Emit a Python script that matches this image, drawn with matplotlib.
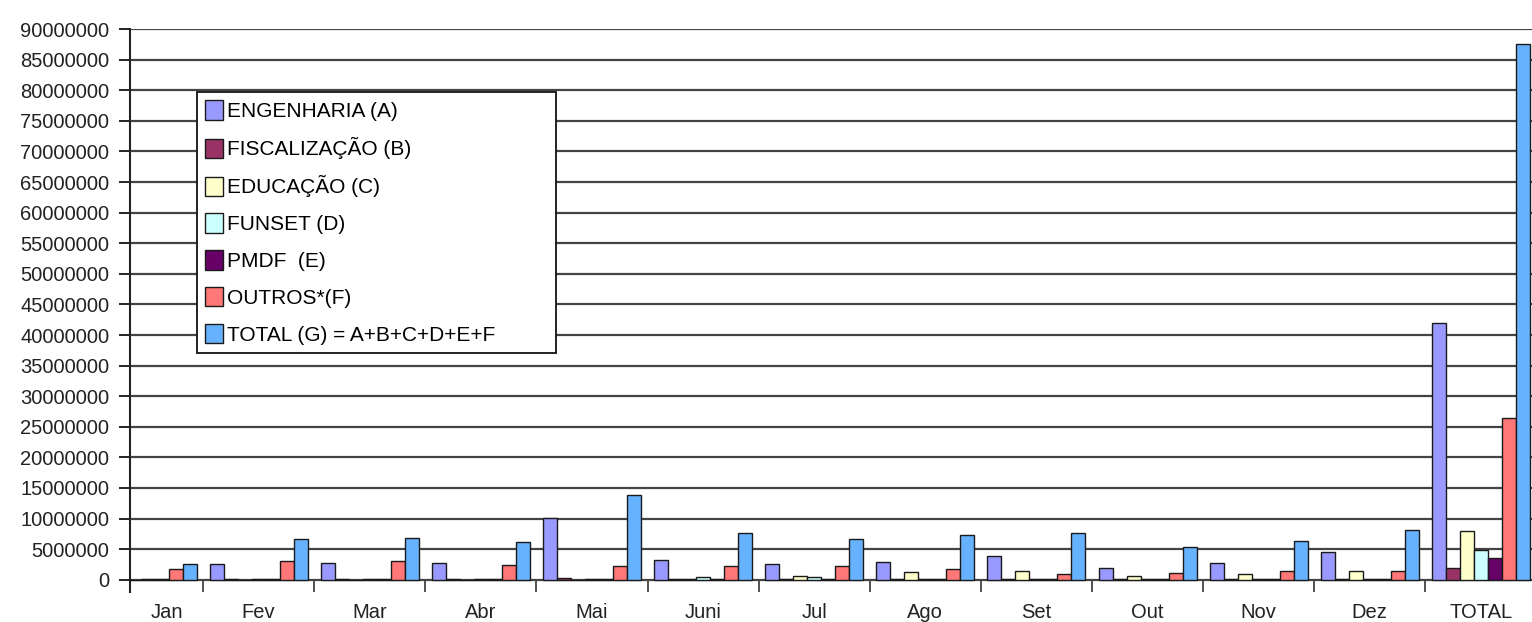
import numpy as np
import matplotlib
matplotlib.use("Agg")
import matplotlib.pyplot as plt
from matplotlib.ticker import FuncFormatter, FixedLocator

plt.rcParams['font.family'] = ['Liberation Sans', 'DejaVu Sans']

meses = ['Jan', 'Fev', 'Mar', 'Abr', 'Mai', 'Juni', 'Jul', 'Ago', 'Set', 'Out', 'Nov', 'Dez', 'TOTAL']

engenharia = [2.0e6, 2.5e6, 2.7e6, 2.8e6, 10.1e6, 3.2e6, 2.6e6, 2.9e6, 3.9e6, 1.9e6, 2.8e6, 4.6e6, 42.0e6]
fiscalizacao = [0.1e6, 0.1e6, 0.1e6, 0.1e6, 0.35e6, 0.1e6, 0.1e6, 0.1e6, 0.1e6, 0.1e6, 0.1e6, 0.15e6, 1.9e6]
educacao = [0, 0, 0, 0, 0, 0.1e6, 0.65e6, 1.3e6, 1.5e6, 0.65e6, 0.9e6, 1.4e6, 7.9e6]
funset = [0.1e6, 0.1e6, 0.1e6, 0.1e6, 0.1e6, 0.4e6, 0.5e6, 0.1e6, 0.1e6, 0.1e6, 0.1e6, 0.1e6, 4.8e6]
pmdf = [0.15e6, 0.15e6, 0.15e6, 0.15e6, 0.15e6, 0.15e6, 0.15e6, 0.15e6, 0.15e6, 0.15e6, 0.15e6, 0.15e6, 3.5e6]
outros = [1.7e6, 3.1e6, 3.1e6, 2.45e6, 2.3e6, 2.3e6, 2.3e6, 1.7e6, 0.9e6, 1.1e6, 1.5e6, 1.5e6, 26.4e6]
total = [2.6e6, 6.7e6, 6.9e6, 6.2e6, 13.8e6, 7.6e6, 6.6e6, 7.3e6, 7.7e6, 5.4e6, 6.4e6, 8.2e6, 87.6e6]

series = [engenharia, fiscalizacao, educacao, funset, pmdf, outros, total]
nomes = ['ENGENHARIA (A)', 'FISCALIZAÇÃO (B)', 'EDUCAÇÃO (C)', 'FUNSET (D)',
         'PMDF  (E)', 'OUTROS*(F)', 'TOTAL (G) = A+B+C+D+E+F']
cores = ['#9999FF', '#993366', '#FFFFCC', '#CCFFFF', '#660066', '#FF7777', '#66B2FF']

fig = plt.figure(figsize=(15.32, 6.22), dpi=100)
ax = fig.add_axes([0.0849, 0.0482, 0.9151, 0.9051])

x = np.arange(len(meses))
w = 0.126
for k, (vals, nome, cor) in enumerate(zip(series, nomes, cores)):
    ax.bar(x + (k - 3) * w, vals, w, color=cor, edgecolor='#1a1a1a', linewidth=1.0,
           label=nome, zorder=3)

x0, x1 = -0.157, 12.46
ax.set_xlim(x0, x1)
ax.set_ylim(-2e6, 90e6)

ax.set_yticks(np.arange(0, 90e6 + 1, 5e6))
ax.yaxis.set_major_formatter(FuncFormatter(lambda v, p: '%d' % v))
ax.yaxis.grid(True, color='#444444', linewidth=1.6, zorder=0)
ax.tick_params(axis='y', direction='out', length=8, width=1.2, labelsize=14.5,
               labelcolor='#222222', pad=7)

# Jan fica parcialmente cortado pelo eixo: rotulo no meio da parte visivel
pos = x.astype(float)
pos[0] = (x0 + 0.5) / 2
ax.xaxis.set_major_locator(FixedLocator(pos))
ax.set_xticklabels(meses)
ax.xaxis.set_minor_locator(FixedLocator(x[:-1] + 0.5))
ax.tick_params(axis='x', which='major', length=0, labelsize=14.5, labelcolor='#222222', pad=8)
ax.tick_params(axis='x', which='minor', direction='in', length=8, width=1.2, color='#333333')

for s in ['top', 'right', 'bottom']:
    ax.spines[s].set_visible(False)
ax.spines['left'].set_linewidth(1.5)
ax.spines['left'].set_color('#222222')

leg = ax.legend(loc='upper left', bbox_to_anchor=(0.0478, 0.0, 0.256, 0.888), mode='expand',
                borderaxespad=0, fontsize=15, fancybox=False, framealpha=1,
                edgecolor='#111111', handlelength=0.85, handleheight=1.05,
                handletextpad=0.2, labelspacing=0.77, borderpad=0.4)
leg.get_frame().set_linewidth(1.3)
leg.set_zorder(5)

plt.savefig('out.png', dpi=100)
